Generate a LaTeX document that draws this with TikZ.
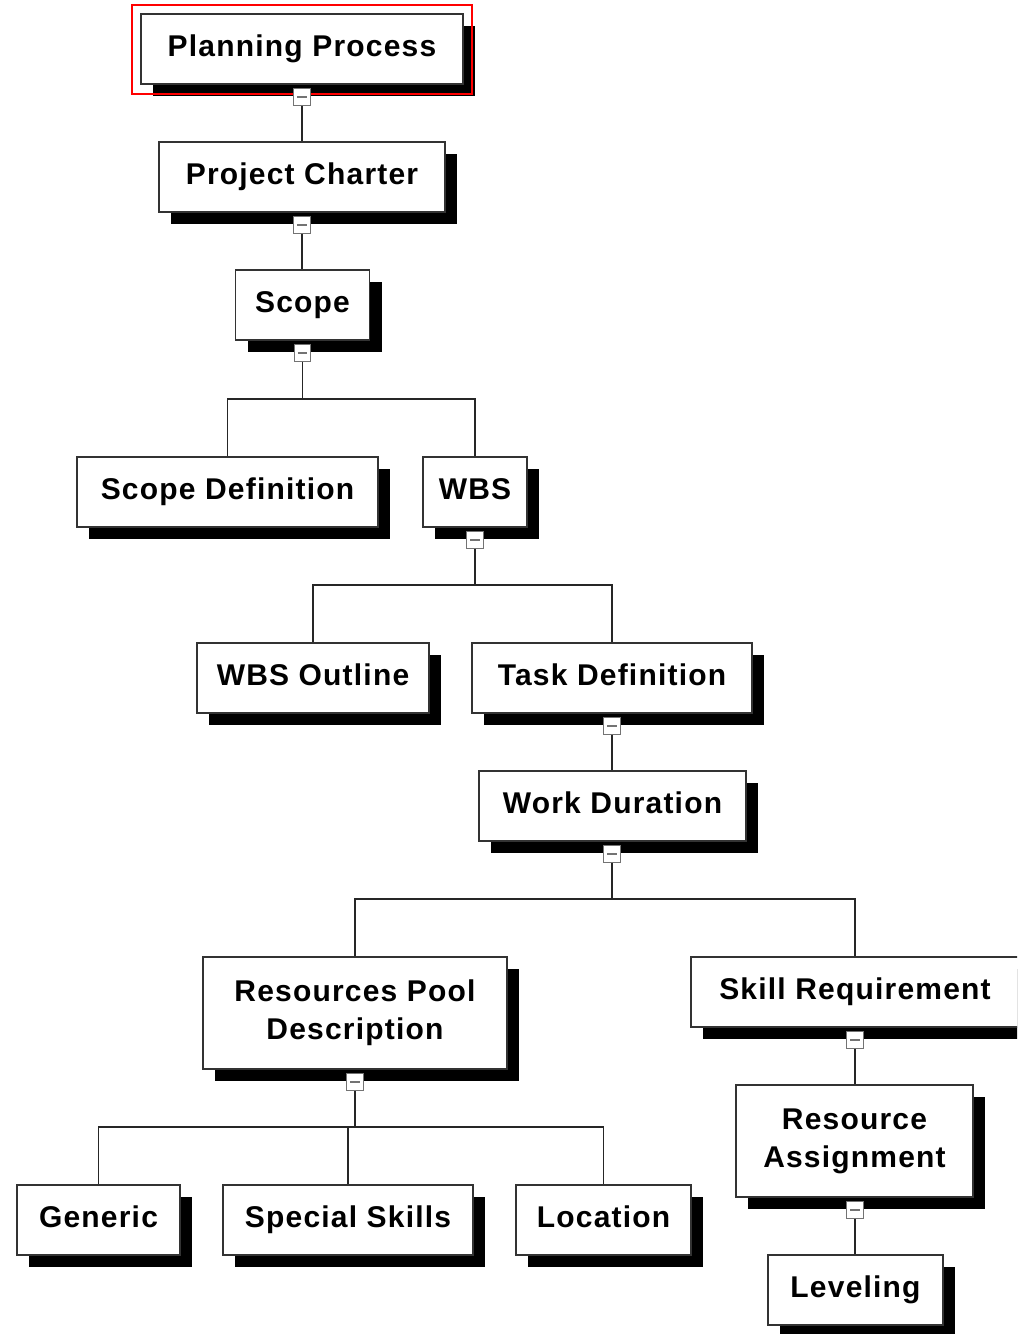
\documentclass[tikz,border=0pt]{standalone}
\usepackage{fontspec}
\setmainfont{Liberation Sans}[LetterSpace=4]
\usetikzlibrary{shadows,calc}
\tikzset{
  box/.style={draw=black!80, line width=1.2pt, fill=white, inner sep=0pt,
    font=\fontsize{22.5}{28.5}\selectfont\bfseries,
    drop shadow={shadow xshift=9pt, shadow yshift=-9pt, fill=black, opacity=1}},
  one/.style={box, text height=16pt, text depth=5pt},
  two/.style={box, align=center},
  tog/.style={draw=black!55, line width=0.9pt, fill=white, minimum size=12.5pt, inner sep=0pt,
    path picture={\draw[line width=1.1pt] ([xshift=-3.5pt]path picture bounding box.center) -- ([xshift=3.5pt]path picture bounding box.center);}},
  link/.style={draw=black!85, line width=1.3pt}
}
\begin{document}
\begin{tikzpicture}[x=0.75pt,y=-0.75pt]
\useasboundingbox (0,0) rectangle (1017,1334);
\fill[white] (0,0) rectangle (1017,1334);
\clip (0,0) rectangle (1017,1334);

% boxes
\node[one, minimum width=241.5pt, minimum height=52.5pt] (PP) at (302,49) {Planning Process};
\node[one, minimum width=214.5pt, minimum height=52.5pt] (PC) at (302,177) {Project Charter};
\node[one, minimum width=100.5pt, minimum height=52.5pt] (Sc) at (302.5,305) {Scope};
\node[one, minimum width=225.75pt, minimum height=52.5pt] (SD) at (227.5,492) {Scope Definition};
\node[one, minimum width=78pt, minimum height=52.5pt] (WBS) at (475,492) {WBS};
\node[one, minimum width=174pt, minimum height=52.5pt] (WBSO) at (313,678) {WBS Outline};
\node[one, minimum width=210pt, minimum height=52.5pt] (TD) at (612,678) {Task Definition};
\node[one, minimum width=200.25pt, minimum height=52.5pt] (WD) at (612.5,806) {Work Duration};
\node[two, minimum width=228pt, minimum height=84pt] (RPD) at (355,1013) {Resources Pool\\Description};
\node[one, minimum width=246pt, minimum height=52.5pt] (SR) at (855,992) {Skill Requirement};
\node[two, minimum width=177.75pt, minimum height=84pt] (RA) at (854.5,1141) {Resource\\Assignment};
\node[one, minimum width=131.25pt, minimum height=52.5pt] (Lev) at (855.5,1290) {Leveling};
\node[one, minimum width=122.25pt, minimum height=52.5pt] (Gen) at (98.5,1220) {Generic};
\node[one, minimum width=187.5pt, minimum height=52.5pt] (SS) at (348,1220) {Special Skills};
\node[one, minimum width=131.25pt, minimum height=52.5pt] (Loc) at (603.5,1220) {Location};

% selection frame
\draw[red, line width=1.2pt] ($(PP.north west)+(-8,-8)$) rectangle ($(PP.south east)+(8,9)$);

% toggles
\node[tog] (tPP) at (302,97) {};
\node[tog] (tPC) at (302,225) {};
\node[tog] (tSc) at (302.5,353) {};
\node[tog] (tWBS) at (475,540) {};
\node[tog] (tTD) at (612,726) {};
\node[tog] (tWD) at (612,854) {};
\node[tog] (tRPD) at (355,1082) {};
\node[tog] (tSR) at (855,1040) {};
\node[tog] (tRA) at (855,1210) {};

% bus points
\coordinate (bSc) at (302.5,399);
\coordinate (bW) at (475,585);
\coordinate (bWD) at (612,899);
\coordinate (bR) at (355,1127);

% connectors
\draw[link] (tPP.south) -- (PC.north -| tPP.south);
\draw[link] (tPC.south) -- (Sc.north -| tPC.south);
\draw[link] (tSc.south) -- (bSc);
\draw[link] (SD.north) |- (bSc) -| (WBS.north);
\draw[link] (tWBS.south) -- (bW);
\draw[link] (WBSO.north) |- (bW) -| (TD.north);
\draw[link] (tTD.south) -- (WD.north -| tTD.south);
\draw[link] (tWD.south) -- (bWD);
\draw[link] (RPD.north) |- (bWD) -| (SR.north);
\draw[link] (tRPD.south) -- (bR);
\draw[link] (Gen.north) |- (bR) -| (Loc.north);
\draw[link] (SS.north) -- (SS.north |- bR);
\draw[link] (tSR.south) -- (RA.north -| tSR.south);
\draw[link] (tRA.south) -- (Lev.north -| tRA.south);
\end{tikzpicture}
\end{document}
